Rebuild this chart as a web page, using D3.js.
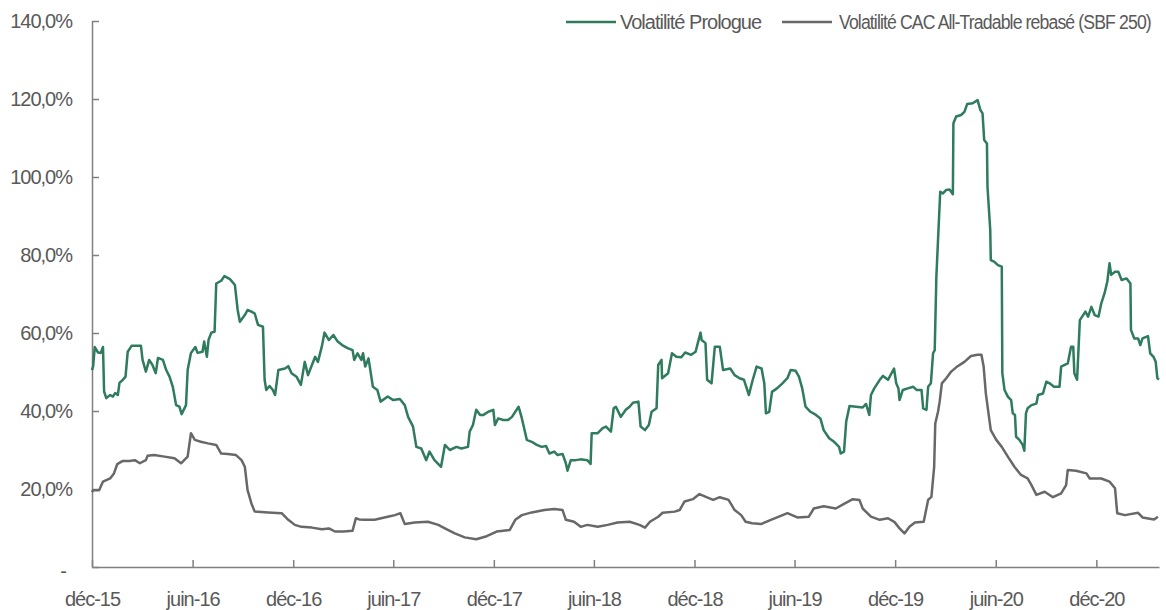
<!DOCTYPE html>
<html>
<head>
<meta charset="utf-8">
<script src="https://cdn.jsdelivr.net/npm/d3@7"></script>
<style>
  body { margin: 0; background: #fff; }
  text { font-family: "Liberation Sans", Arial, sans-serif; }
</style>
</head>
<body>
<div id="chart"></div>
<script>
// Volatilité Prologue (%), [date, valeur]
var prologue = [
  ["2015-12-01", 50.5], ["2015-12-03", 51.4], ["2015-12-06", 56.4], ["2015-12-12", 55.0], ["2015-12-17", 54.9],
  ["2015-12-21", 56.4], ["2015-12-23", 45.0], ["2015-12-27", 43.3], ["2016-01-03", 44.1], ["2016-01-08", 43.7],
  ["2016-01-12", 44.6], ["2016-01-17", 44.1], ["2016-01-20", 47.2], ["2016-01-26", 48.0], ["2016-01-31", 48.8],
  ["2016-02-04", 55.2], ["2016-02-11", 56.7], ["2016-02-28", 56.7], ["2016-03-02", 53.1], ["2016-03-08", 50.1],
  ["2016-03-14", 53.1], ["2016-03-20", 51.8], ["2016-03-26", 49.7], ["2016-03-30", 53.6], ["2016-04-08", 53.1],
  ["2016-04-14", 50.5], ["2016-04-20", 48.8], ["2016-04-26", 46.2], ["2016-05-02", 41.5], ["2016-05-08", 41.1],
  ["2016-05-12", 39.2], ["2016-05-20", 41.5], ["2016-05-23", 50.5], ["2016-05-29", 54.9], ["2016-06-06", 56.4],
  ["2016-06-10", 54.9], ["2016-06-19", 55.2], ["2016-06-22", 57.8], ["2016-06-27", 53.9], ["2016-06-30", 58.2],
  ["2016-07-05", 60.1], ["2016-07-11", 60.3], ["2016-07-14", 72.7], ["2016-07-23", 73.4], ["2016-07-29", 74.6],
  ["2016-08-08", 73.8], ["2016-08-17", 72.3], ["2016-08-22", 65.9], ["2016-08-26", 62.9], ["2016-09-04", 64.6],
  ["2016-09-09", 65.9], ["2016-09-16", 65.5], ["2016-09-22", 65.0], ["2016-09-28", 62.1], ["2016-10-07", 61.6],
  ["2016-10-10", 48.0], ["2016-10-13", 45.4], ["2016-10-19", 46.4], ["2016-10-25", 45.4], ["2016-10-29", 44.1],
  ["2016-11-04", 50.5], ["2016-11-16", 50.9], ["2016-11-22", 51.5], ["2016-11-28", 49.7], ["2016-12-07", 48.8],
  ["2016-12-15", 46.7], ["2016-12-22", 52.6], ["2016-12-28", 49.2], ["2017-01-03", 51.4], ["2017-01-10", 53.9],
  ["2017-01-15", 52.6], ["2017-01-22", 56.5], ["2017-01-27", 60.1], ["2017-02-04", 58.2], ["2017-02-12", 59.5],
  ["2017-02-20", 57.8], ["2017-02-28", 56.9], ["2017-03-10", 56.1], ["2017-03-19", 55.6], ["2017-03-22", 53.1],
  ["2017-03-28", 54.8], ["2017-04-04", 53.1], ["2017-04-07", 54.8], ["2017-04-11", 51.4], ["2017-04-17", 53.5],
  ["2017-04-25", 46.2], ["2017-05-03", 45.4], ["2017-05-09", 42.4], ["2017-05-22", 43.7], ["2017-06-01", 42.8],
  ["2017-06-13", 43.1], ["2017-06-22", 41.5], ["2017-06-28", 38.5], ["2017-07-07", 36.0], ["2017-07-13", 30.8],
  ["2017-07-22", 30.4], ["2017-07-31", 27.4], ["2017-08-06", 29.6], ["2017-08-15", 27.4], ["2017-08-27", 25.7],
  ["2017-09-03", 31.3], ["2017-09-12", 30.0], ["2017-09-24", 30.8], ["2017-10-03", 30.4], ["2017-10-15", 30.8],
  ["2017-10-18", 34.7], ["2017-10-24", 36.4], ["2017-10-30", 40.3], ["2017-11-06", 39.0], ["2017-11-12", 39.0],
  ["2017-11-21", 39.8], ["2017-11-30", 40.3], ["2017-12-03", 36.4], ["2017-12-09", 38.1], ["2017-12-18", 37.7],
  ["2017-12-27", 37.7], ["2018-01-03", 38.5], ["2018-01-15", 41.1], ["2018-01-21", 38.1], ["2018-01-30", 32.6],
  ["2018-02-08", 32.1], ["2018-02-17", 31.3], ["2018-02-26", 30.8], ["2018-03-06", 31.0], ["2018-03-12", 29.1],
  ["2018-03-21", 29.6], ["2018-03-27", 28.7], ["2018-04-05", 29.0], ["2018-04-11", 26.6], ["2018-04-14", 24.7],
  ["2018-04-20", 27.4], ["2018-04-29", 27.4], ["2018-05-08", 27.6], ["2018-05-20", 27.4], ["2018-05-26", 26.4],
  ["2018-05-28", 34.3], ["2018-06-08", 34.3], ["2018-06-17", 35.6], ["2018-06-23", 36.0], ["2018-07-02", 34.7],
  ["2018-07-07", 40.7], ["2018-07-11", 41.1], ["2018-07-20", 38.5], ["2018-07-29", 40.3], ["2018-08-05", 41.1],
  ["2018-08-11", 42.1], ["2018-08-21", 42.4], ["2018-08-25", 36.0], ["2018-09-02", 35.1], ["2018-09-09", 36.4],
  ["2018-09-14", 39.8], ["2018-09-23", 40.7], ["2018-09-26", 51.8], ["2018-10-02", 53.1], ["2018-10-03", 48.4],
  ["2018-10-14", 49.7], ["2018-10-21", 54.8], ["2018-10-29", 53.9], ["2018-11-07", 53.8], ["2018-11-14", 55.0],
  ["2018-11-25", 54.4], ["2018-12-03", 55.2], ["2018-12-07", 57.4], ["2018-12-12", 60.1], ["2018-12-14", 58.2],
  ["2018-12-21", 57.4], ["2018-12-24", 48.0], ["2019-01-01", 47.1], ["2019-01-07", 56.5], ["2019-01-16", 56.5],
  ["2019-01-22", 50.5], ["2019-02-04", 50.9], ["2019-02-12", 49.2], ["2019-02-21", 48.4], ["2019-03-01", 48.0],
  ["2019-03-10", 44.1], ["2019-03-16", 47.5], ["2019-03-24", 51.4], ["2019-04-02", 50.9], ["2019-04-07", 47.1],
  ["2019-04-10", 39.4], ["2019-04-16", 39.8], ["2019-04-21", 44.9], ["2019-04-30", 45.8], ["2019-05-10", 47.1],
  ["2019-05-19", 48.4], ["2019-05-25", 50.5], ["2019-06-03", 50.3], ["2019-06-09", 48.8], ["2019-06-15", 45.8],
  ["2019-06-21", 41.1], ["2019-06-30", 39.8], ["2019-07-10", 39.0], ["2019-07-18", 38.1], ["2019-07-24", 35.1],
  ["2019-08-03", 33.0], ["2019-08-12", 32.1], ["2019-08-21", 30.8], ["2019-08-24", 29.1], ["2019-08-30", 29.6],
  ["2019-09-03", 37.3], ["2019-09-09", 41.3], ["2019-09-21", 41.1], ["2019-10-03", 40.9], ["2019-10-09", 41.8],
  ["2019-10-15", 39.0], ["2019-10-18", 44.1], ["2019-10-24", 45.8], ["2019-11-03", 48.0], ["2019-11-09", 49.0],
  ["2019-11-18", 48.0], ["2019-11-29", 50.9], ["2019-12-03", 47.1], ["2019-12-07", 45.8], ["2019-12-09", 42.8],
  ["2019-12-15", 45.4], ["2019-12-24", 45.8], ["2020-01-03", 46.2], ["2020-01-09", 45.4], ["2020-01-18", 45.4],
  ["2020-01-21", 40.7], ["2020-01-27", 40.3], ["2020-01-30", 46.2], ["2020-02-04", 47.1], ["2020-02-08", 54.8],
  ["2020-02-11", 55.6], ["2020-02-14", 74.4], ["2020-02-17", 83.8], ["2020-02-21", 96.2], ["2020-02-26", 95.8],
  ["2020-03-03", 96.7], ["2020-03-09", 96.8], ["2020-03-15", 95.6], ["2020-03-16", 113.8], ["2020-03-21", 115.5],
  ["2020-03-30", 115.9], ["2020-04-05", 116.7], ["2020-04-10", 118.7], ["2020-04-20", 118.9], ["2020-04-29", 119.7],
  ["2020-05-04", 117.2], ["2020-05-08", 116.3], ["2020-05-11", 109.5], ["2020-05-16", 108.6], ["2020-05-17", 97.5],
  ["2020-05-22", 86.4], ["2020-05-23", 78.7], ["2020-05-29", 78.3], ["2020-06-05", 77.4], ["2020-06-12", 77.0],
  ["2020-06-13", 49.7], ["2020-06-17", 45.4], ["2020-06-23", 43.7], ["2020-06-29", 42.8], ["2020-07-02", 39.4],
  ["2020-07-06", 39.0], ["2020-07-08", 33.4], ["2020-07-14", 32.6], ["2020-07-20", 31.3], ["2020-07-23", 29.8],
  ["2020-07-26", 39.4], ["2020-07-29", 40.7], ["2020-08-05", 41.5], ["2020-08-14", 41.9], ["2020-08-17", 44.1],
  ["2020-08-26", 44.5], ["2020-09-01", 47.5], ["2020-09-07", 47.1], ["2020-09-15", 46.2], ["2020-09-25", 46.2],
  ["2020-09-28", 51.4], ["2020-10-10", 52.2], ["2020-10-16", 56.5], ["2020-10-20", 56.5], ["2020-10-22", 49.7],
  ["2020-10-27", 48.0], ["2020-11-01", 63.3], ["2020-11-07", 64.6], ["2020-11-11", 65.5], ["2020-11-16", 64.2],
  ["2020-11-22", 66.7], ["2020-11-28", 64.6], ["2020-12-05", 64.2], ["2020-12-10", 67.6], ["2020-12-16", 70.2],
  ["2020-12-21", 73.2], ["2020-12-25", 77.9], ["2020-12-28", 74.9], ["2021-01-04", 75.7], ["2021-01-10", 75.7],
  ["2021-01-16", 73.6], ["2021-01-25", 74.0], ["2021-02-01", 72.7], ["2021-02-02", 60.8], ["2021-02-08", 58.6],
  ["2021-02-15", 58.6], ["2021-02-19", 56.9], ["2021-02-23", 58.6], ["2021-03-05", 59.2], ["2021-03-09", 54.8],
  ["2021-03-15", 53.9], ["2021-03-19", 52.6], ["2021-03-22", 48.4], ["2021-03-25", 48.1]
];

// Volatilité CAC All-Tradable rebasé (SBF 250) (%)
var cac = [
  ["2015-12-01", 19.2], ["2015-12-03", 19.7], ["2015-12-14", 19.7], ["2015-12-21", 21.9], ["2016-01-03", 22.7],
  ["2016-01-10", 24.0], ["2016-01-16", 26.4], ["2016-01-26", 27.2], ["2016-02-07", 27.2], ["2016-02-17", 27.4],
  ["2016-02-26", 26.6], ["2016-03-08", 27.4], ["2016-03-11", 28.5], ["2016-03-23", 28.7], ["2016-04-11", 28.3],
  ["2016-04-29", 27.9], ["2016-05-11", 26.6], ["2016-05-23", 28.3], ["2016-05-29", 34.3], ["2016-06-05", 32.6],
  ["2016-06-16", 32.1], ["2016-06-29", 31.7], ["2016-07-14", 31.3], ["2016-07-23", 29.1], ["2016-08-04", 29.0],
  ["2016-08-19", 28.7], ["2016-08-29", 27.4], ["2016-09-04", 25.7], ["2016-09-09", 19.7], ["2016-09-16", 16.3],
  ["2016-09-22", 14.2], ["2016-10-16", 14.0], ["2016-11-10", 13.8], ["2016-11-22", 12.1], ["2016-12-04", 10.8],
  ["2016-12-16", 10.3], ["2017-01-04", 10.1], ["2017-01-22", 9.7], ["2017-02-04", 9.9], ["2017-02-15", 9.1],
  ["2017-03-03", 9.1], ["2017-03-19", 9.3], ["2017-03-25", 12.5], ["2017-03-31", 12.2], ["2017-04-10", 12.1],
  ["2017-04-28", 12.1], ["2017-05-22", 12.9], ["2017-06-04", 13.3], ["2017-06-14", 13.8], ["2017-06-22", 11.0],
  ["2017-07-10", 11.4], ["2017-08-03", 11.6], ["2017-08-22", 10.8], ["2017-09-03", 9.9], ["2017-09-21", 8.6],
  ["2017-10-09", 7.6], ["2017-10-30", 7.1], ["2017-11-18", 7.9], ["2017-12-06", 9.1], ["2017-12-30", 9.5],
  ["2018-01-09", 12.1], ["2018-01-21", 13.3], ["2018-02-08", 14.0], ["2018-03-03", 14.6], ["2018-03-21", 14.9],
  ["2018-04-05", 14.6], ["2018-04-11", 12.1], ["2018-04-26", 11.6], ["2018-05-08", 10.3], ["2018-05-20", 10.8],
  ["2018-06-08", 10.3], ["2018-06-26", 10.8], ["2018-07-14", 11.4], ["2018-08-05", 11.6], ["2018-08-23", 10.8],
  ["2018-09-02", 10.1], ["2018-09-11", 11.6], ["2018-09-26", 12.9], ["2018-10-04", 13.9], ["2018-10-26", 14.2],
  ["2018-11-04", 14.6], ["2018-11-13", 16.8], ["2018-11-28", 17.4], ["2018-12-10", 18.7], ["2018-12-25", 17.8],
  ["2019-01-04", 17.2], ["2019-01-16", 17.9], ["2019-02-01", 17.2], ["2019-02-12", 14.6], ["2019-02-24", 13.3],
  ["2019-03-04", 11.6], ["2019-03-16", 11.2], ["2019-04-01", 11.0], ["2019-04-19", 12.1], ["2019-05-07", 13.1],
  ["2019-05-19", 13.8], ["2019-06-06", 12.7], ["2019-06-27", 12.9], ["2019-07-06", 15.0], ["2019-07-24", 15.6],
  ["2019-08-15", 15.0], ["2019-08-30", 16.2], ["2019-09-15", 17.4], ["2019-09-27", 17.2], ["2019-10-03", 15.0],
  ["2019-10-18", 12.9], ["2019-11-03", 12.1], ["2019-11-18", 12.5], ["2019-11-30", 11.5], ["2019-12-09", 9.9],
  ["2019-12-18", 8.6], ["2019-12-27", 10.3], ["2020-01-06", 11.4], ["2020-01-22", 11.6], ["2020-01-30", 17.2],
  ["2020-02-05", 18.0], ["2020-02-10", 25.7], ["2020-02-12", 36.8], ["2020-02-17", 39.8], ["2020-02-20", 42.4],
  ["2020-02-24", 47.1], ["2020-03-03", 48.4], ["2020-03-12", 50.1], ["2020-03-21", 51.2], ["2020-04-05", 52.6],
  ["2020-04-17", 54.1], ["2020-04-29", 54.4], ["2020-05-06", 54.4], ["2020-05-10", 51.4], ["2020-05-14", 44.5],
  ["2020-05-18", 40.3], ["2020-05-23", 35.1], ["2020-06-02", 32.6], ["2020-06-12", 30.8], ["2020-06-23", 28.3],
  ["2020-07-05", 25.7], ["2020-07-17", 23.6], ["2020-07-29", 22.7], ["2020-08-05", 21.0], ["2020-08-14", 18.5],
  ["2020-08-29", 19.3], ["2020-09-13", 17.9], ["2020-09-28", 18.9], ["2020-10-07", 21.0], ["2020-10-10", 24.9],
  ["2020-10-25", 24.7], ["2020-11-13", 24.0], ["2020-11-19", 22.7], ["2020-12-10", 22.7], ["2020-12-25", 21.9],
  ["2021-01-04", 20.2], ["2021-01-08", 13.8], ["2021-01-22", 13.3], ["2021-02-15", 13.9], ["2021-02-23", 12.7],
  ["2021-03-16", 12.2], ["2021-03-23", 12.9]
];

var seriesNames = ["Volatilité Prologue", "Volatilité CAC All-Tradable rebasé (SBF 250)"];
var seriesColors = ["#2e7b5d", "#686868"];

var tickDates = ["2015-12-01", "2016-06-01", "2016-12-01", "2017-06-01", "2017-12-01", "2018-06-01",
  "2018-12-01", "2019-06-01", "2019-12-01", "2020-06-01", "2020-12-01"];
var tickLabels = ["déc-15", "juin-16", "déc-16", "juin-17", "déc-17", "juin-18",
  "déc-18", "juin-19", "déc-19", "juin-20", "déc-20"];
var yTicks = [0, 20, 40, 60, 80, 100, 120, 140];

var width = 1166, height = 610;
var parse = d3.timeParse("%Y-%m-%d");

var svg = d3.select("#chart")
    .append("svg")
    .attr("width", width)
    .attr("height", height);

// scales
var x = d3.scaleTime()
    .domain([parse("2015-12-01"), parse("2021-03-25")])
    .range([92, 1159]);

var y = d3.scaleLinear()
    .domain([0, 140])
    .range([567, 21]);

var fmt = d3.format(".1f");

// y axis, ticks inside
var yAxis = svg.append("g")
    .attr("transform", "translate(" + 92 + ",0)")
    .call(d3.axisLeft(y)
        .tickValues(yTicks)
        .tickSize(-7)
        .tickSizeOuter(0)
        .tickPadding(20)
        .tickFormat(function (d) { return d === 0 ? "-" : fmt(d).replace(".", ",") + "%"; }));

yAxis.selectAll("text")
    .attr("x", function (d) { return d === 0 ? -26 : -20; })
    .attr("dy", function (d) { return d === 0 ? "0.5em" : "0.34em"; });

// x axis
var xAxis = svg.append("g")
    .attr("transform", "translate(0," + 567 + ")")
    .call(d3.axisBottom(x)
        .tickValues(tickDates.map(parse))
        .tickSize(-7)
        .tickSizeOuter(0)
        .tickPadding(25)
        .tickFormat(function (d, i) { return tickLabels[i]; }));

svg.selectAll(".domain, .tick line")
    .attr("stroke", "#808080")
    .attr("stroke-width", 1.5);

svg.selectAll(".tick text")
    .style("font-size", "20px")
    .style("letter-spacing", "-1px")
    .attr("fill", "#595959");

// lines
var line = d3.line()
    .x(function (d) { return x(parse(d[0])); })
    .y(function (d) { return y(d[1]); });

[prologue, cac].forEach(function (s, i) {
    svg.append("path")
        .datum(s)
        .attr("d", line)
        .attr("fill", "none")
        .attr("stroke", seriesColors[i])
        .attr("stroke-width", 2.5)
        .attr("stroke-linejoin", "round");
});

// legend, text squeezed horizontally like the original
var legendX = [566, 782];
var legendTextX = [54, 57];
var legendTextWidth = [142, 312];
var legend = svg.selectAll(".legend")
    .data(seriesNames)
    .enter()
    .append("g")
    .attr("transform", function (d, i) { return "translate(" + legendX[i] + ",22)"; });

legend.append("line")
    .attr("x1", 0)
    .attr("x2", 50)
    .attr("stroke", function (d, i) { return seriesColors[i]; })
    .attr("stroke-width", 2.5);

legend.append("text")
    .attr("dy", "0.35em")
    .style("font-size", "20px")
    .style("letter-spacing", "-1px")
    .attr("fill", "#595959")
    .text(function (d) { return d; })
    .attr("transform", function (d, i) {
        var k = Math.min(1, legendTextWidth[i] / this.getComputedTextLength());
        return "translate(" + legendTextX[i] + ",0) scale(" + k + ",1)";
    });
</script>
</body>
</html>
